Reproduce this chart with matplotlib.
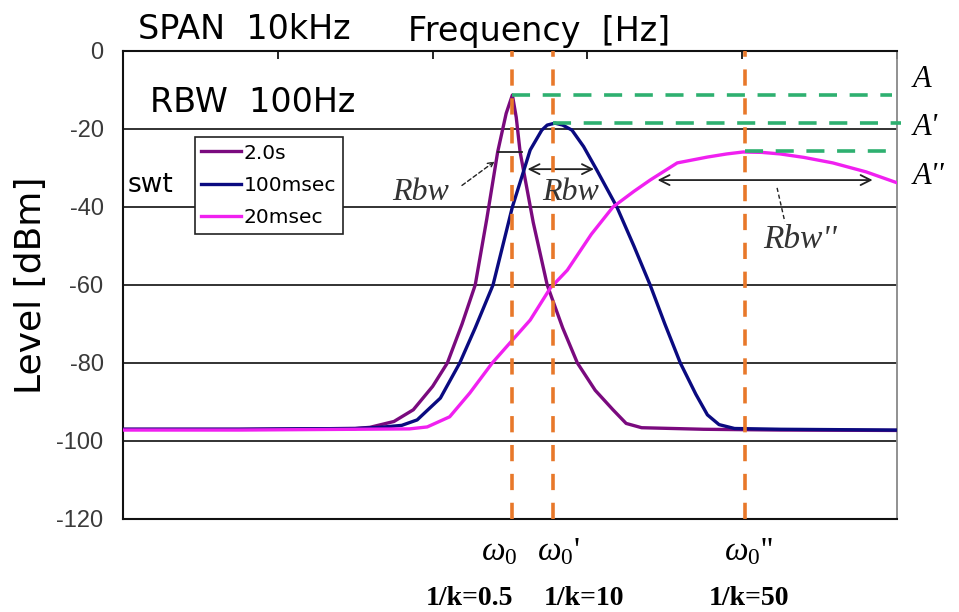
import matplotlib
matplotlib.use("Agg")
import matplotlib.pyplot as plt

# ---------------- data (x: position across the 10 kHz span, y: level dBm) -------------
level_ticks = [0, -20, -40, -60, -80, -100, -120]
freq_ticks = [0, 2, 4, 6, 8, 10]
swt_labels = ["2.0s", "100msec", "20msec"]

x_2s = [0.0, 1.5, 3.0, 3.19, 3.5, 3.75, 4.0, 4.19, 4.38, 4.55, 4.70, 4.84, 4.95, 5.03,
        5.08, 5.13, 5.30, 5.48, 5.68, 5.87, 6.10, 6.33, 6.50, 6.70, 7.5, 8.5, 10.0]
y_2s = [-97.0, -97.0, -96.8, -96.5, -95.0, -92.0, -86.0, -80.0, -70.0, -60.0, -43.0, -25.9,
        -16.0, -11.3, -17.0, -25.9, -44.0, -60.0, -71.0, -80.0, -87.0, -92.0, -95.5, -96.6,
        -97.0, -97.2, -97.3]

x_100ms = [0.0, 1.5, 3.0, 3.32, 3.60, 3.80, 4.10, 4.35, 4.55, 4.78, 5.03, 5.18, 5.26, 5.41,
           5.48, 5.58, 5.68, 5.80, 5.95, 6.12, 6.38, 6.60, 6.81, 7.00, 7.20, 7.40, 7.55, 7.70,
           7.90, 8.5, 10.0]
y_100ms = [-97.0, -97.0, -96.8, -96.5, -96.0, -94.6, -89.0, -80.0, -71.0, -60.0, -40.0, -30.5,
           -25.4, -20.3, -19.0, -18.5, -19.0, -20.3, -24.5, -30.5, -40.0, -50.0, -60.0, -70.0,
           -80.0, -88.0, -93.3, -95.8, -96.8, -97.0, -97.2]

x_20ms = [0.0, 1.5, 3.0, 3.70, 3.93, 4.22, 4.48, 4.77, 5.01, 5.26, 5.52, 5.74, 6.05, 6.33,
          6.60, 6.81, 7.16, 7.55, 7.80, 8.01, 8.25, 8.49, 8.80, 9.17, 9.60, 10.0]
y_20ms = [-97.2, -97.2, -97.0, -96.9, -96.4, -93.8, -87.7, -80.0, -74.6, -69.0, -60.8, -56.2,
          -47.0, -40.0, -36.0, -33.1, -28.7, -27.2, -26.4, -25.9, -26.0, -26.4, -27.3, -28.7,
          -31.0, -33.8]

peak_x = [5.02, 5.55, 8.03]            # omega0, omega0', omega0''
peak_level = [-11.3, -18.5, -25.6]     # A, A', A''
peak_names = ["A", "A'", "A''"]
omega_labels = [r"$\omega_0$", r"$\omega_0$'", r"$\omega_0$''"]
k_labels = ["1/k=0.5", "1/k=10", "1/k=50"]

# ---------------- style -------------
plt.rcParams["mathtext.fontset"] = "custom"
plt.rcParams["mathtext.it"] = "Liberation Serif:italic"
plt.rcParams["mathtext.rm"] = "Liberation Serif"

c_2s, c_100, c_20 = "#7A0A7E", "#0A0A80", "#F020F0"
c_orange, c_green = "#E8782A", "#2EB070"

fig = plt.figure(figsize=(9.59, 6.12), dpi=100)
ax = fig.add_axes([0.1283, 0.152, 0.8071, 0.7647])
ax.set_xlim(0, 10)
ax.set_ylim(-120, 0)

for yv in level_ticks[1:-1]:
    ax.axhline(yv, color="#222222", lw=1.3, zorder=1)

l1, = ax.plot(x_2s, y_2s, color=c_2s, lw=2.4, zorder=3)
l2, = ax.plot(x_100ms, y_100ms, color=c_100, lw=2.4, zorder=4)
l3, = ax.plot(x_20ms, y_20ms, color=c_20, lw=2.4, zorder=5)

for px in peak_x:
    ax.axvline(px, color=c_orange, lw=2.6, ls=(0, (4.5, 3.5)), zorder=6)
ends = [9.94, 10.05, 9.94]
for px, py, xe in zip(peak_x, peak_level, ends):
    ax.plot([px, xe], [py, py], color=c_green, lw=2.6, ls=(0, (5, 3.5)), zorder=6, clip_on=False)

ax.set_yticks(level_ticks)
ax.set_yticklabels([str(v) for v in level_ticks], fontsize=17, color="#3a3a3a",
                   fontfamily="Liberation Sans")
ax.tick_params(axis="y", length=0, pad=14)
ax.set_xticks(freq_ticks)
ax.tick_params(axis="x", bottom=False, top=True, labelbottom=False, direction="in", length=6, width=1.2)
for s in ["left", "top", "bottom"]:
    ax.spines[s].set_linewidth(1.5)
    ax.spines[s].set_color("#111111")
ax.spines["right"].set_color("#888888")
ax.spines["right"].set_linewidth(1.3)

ax.set_ylabel("Level [dBm]", fontsize=26, labelpad=6)

leg = ax.legend([l1, l2, l3], swt_labels, loc="upper left", bbox_to_anchor=(0.093, 0.816),
                borderaxespad=0, fancybox=False, edgecolor="#222222", framealpha=1,
                fontsize=14.5, handlelength=1.95, handletextpad=0.15, labelspacing=0.66,
                borderpad=0.32)
leg.get_frame().set_linewidth(1.2)
leg.set_zorder(7)

# ---------------- text annotations -------------
ax.text(0.19, 5.4, "SPAN  10kHz", fontsize=24, va="center", ha="left", clip_on=False)
ax.text(3.68, 5.0, "Frequency  [Hz]", fontsize=24, va="center", ha="left", clip_on=False)
ax.text(0.35, -13.3, "RBW  100Hz", fontsize=24, va="center", ha="left")
ax.text(0.06, -34.4, "swt", fontsize=19, va="center", ha="left")

serif_it = dict(fontfamily="Liberation Serif", style="italic")
ax.text(3.85, -36.4, "Rbw", fontsize=23, ha="center", va="center", color="#333333", **serif_it)
ax.text(5.78, -36.4, "Rbw", fontsize=23, ha="center", va="center", color="#333333", zorder=8, **serif_it)
ax.text(8.27, -48.5, "Rbw''", fontsize=24, ha="left", va="center", color="#333333", **serif_it)

for name, yv in zip(peak_names, [-7.4, -19.5, -32.3]):
    ax.text(10.2, yv, name, fontsize=22, ha="left", va="center", clip_on=False, **serif_it)

ax.annotate("", xy=(4.83, -27.9), xytext=(4.35, -34.9),
            arrowprops=dict(arrowstyle="->", lw=1.0, ls=(0, (3, 2)), color="#222222"))
ax.plot([4.84, 5.16], [-25.9, -25.9], color="#222222", lw=1.3, zorder=7)
ax.annotate("", xy=(5.19, -30.3), xytext=(6.12, -30.3),
            arrowprops=dict(arrowstyle="<->", lw=1.3, color="#222222", mutation_scale=18))
ax.annotate("", xy=(6.87, -33.1), xytext=(9.72, -33.1),
            arrowprops=dict(arrowstyle="<->", lw=1.3, color="#222222", mutation_scale=18))
ax.plot([8.45, 8.55], [-35.1, -43.8], color="#222222", lw=1.0, ls=(0, (3, 2)), zorder=7)

for xc, lab in zip([4.86, 5.63, 8.08], omega_labels):
    ax.text(xc, -128.5, lab, fontsize=24, ha="center", va="center", clip_on=False,
            fontfamily="Liberation Serif")
for xc, kl in zip([4.48, 5.96, 8.09], k_labels):
    ax.text(xc, -140.3, kl, fontsize=20, ha="center", va="center", clip_on=False,
            fontfamily="Liberation Serif", fontweight="bold")

fig.savefig("out.png", dpi=100)
